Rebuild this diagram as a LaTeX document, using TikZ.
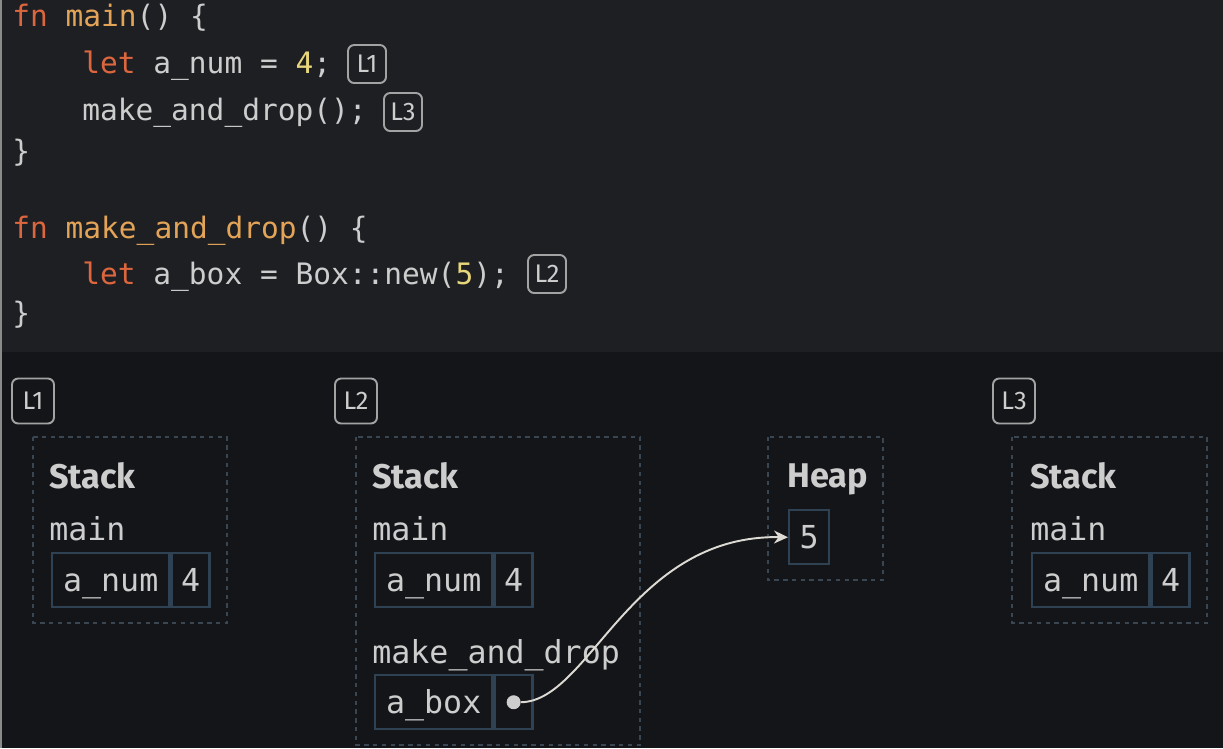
\documentclass[tikz,border=0pt]{standalone}
\usepackage{fontspec}
\setmonofont{DejaVu Sans Mono}
\newfontfamily\headfont{Fira Sans}
\usetikzlibrary{arrows.meta,positioning}

\definecolor{bgtop}{HTML}{1E1F23}
\definecolor{bgbot}{HTML}{141519}
\definecolor{kwcol}{HTML}{DC673E}
\definecolor{fncol}{HTML}{E3A458}
\definecolor{litcol}{HTML}{E8D77A}
\definecolor{txt}{HTML}{CDCDCD}
\definecolor{badgeline}{HTML}{A3A3A3}
\definecolor{cellline}{HTML}{2F4253}
\definecolor{frameline}{HTML}{3A4651}
\definecolor{edgeline}{HTML}{8A8A8A}
\definecolor{ptrcol}{HTML}{DCDAD2}

\newcommand{\kw}[1]{\textcolor{kwcol}{#1}}
\newcommand{\fnm}[1]{\textcolor{fncol}{#1}}
\newcommand{\lit}[1]{\textcolor{litcol}{#1}}

\tikzset{
    frame/.style={draw=frameline,line width=0.8pt,dash pattern=on 2.5pt off 2.5pt},
    heading/.style={anchor=base west,inner sep=0pt,text=txt,font=\headfont\bfseries\fontsize{19.5}{20}\selectfont},
    frlabel/.style={anchor=base west,inner sep=0pt,text=txt,font=\ttfamily\fontsize{18}{20}\selectfont},
    cell/.style={draw=cellline,line width=1.4pt,minimum height=1.08cm,inner sep=0pt,
                 text height=12.5pt,text depth=0pt,text=txt,font=\ttfamily\fontsize{18}{20}\selectfont},
    badge/.style={draw=badgeline,line width=1.1pt,rounded corners=3.5pt,inner sep=0pt,
                  text=txt,font=\headfont\fontsize{14.5}{14}\selectfont}
}

\begin{document}
\begin{tikzpicture}[x=0.02cm,y=-0.02cm]
\fill[bgtop] (0,0) rectangle (1223,352);
\fill[bgbot] (0,352) rectangle (1223,748);
\fill[edgeline] (0,0) rectangle (2.5,748);

% source code
\begin{scope}[every node/.style={anchor=base west,inner sep=0pt,text=txt,
                                 font=\ttfamily\fontsize{16.8}{20}\selectfont}]
    \node (c1) at (12,26) {\kw{fn} \fnm{main}() \{};
    \node (c2) at (82,73) {\kw{let} a\_num = \lit{4};};
    \node (c3) at (82,120) {make\_and\_drop();};
    \node (c4) at (12,161) {\}};
    \node (c5) at (12,238) {\kw{fn} \fnm{make\_and\_drop}() \{};
    \node (c6) at (82,284) {\kw{let} a\_box = Box::new(\lit{5});};
    \node (c7) at (12,323) {\}};
\end{scope}

\begin{scope}[every node/.style={badge,fill=bgtop,minimum width=0.76cm,minimum height=0.76cm}]
    \node (m1) at (367,64) {L1};
    \node (m3) at (403,112) {L3};
    \node (m2) at (547,274) {L2};
\end{scope}

% memory diagrams
\begin{scope}[every node/.style={badge,minimum width=0.84cm,minimum height=0.9cm}]
    \node (s1) at (33,401) {L1};
    \node (s2) at (356,401) {L2};
    \node (s3) at (1014,401) {L3};
\end{scope}

\draw[frame] (33,437) rectangle (227,623);
\draw[frame] (356,437) rectangle (640,745);
\draw[frame] (768,437) rectangle (883,580);
\draw[frame] (1012,437) rectangle (1207,623);

\node[heading] (st1) at (49,488) {Stack};
\node[frlabel] (mn1) at (49,540) {main};
\node[cell,anchor=north west,minimum width=2.34cm] (n1) at (51,552) {a\_num};
\node[cell,minimum width=0.76cm,right=0pt of n1] (v1) {4};

\node[heading] (st2) at (372,488) {Stack};
\node[frlabel] (mn2) at (372,540) {main};
\node[cell,anchor=north west,minimum width=2.34cm] (n2) at (374,552) {a\_num};
\node[cell,minimum width=0.76cm,right=0pt of n2] (v2) {4};
\node[frlabel] (md2) at (372,663) {make\_and\_drop};
\node[cell,anchor=north west,minimum width=2.34cm] (b2) at (374,674) {a\_box};
\node[cell,minimum width=0.76cm,right=0pt of b2] (p2) {};
\node[circle,fill=txt,minimum size=0.28cm,inner sep=0pt] (dot) at (p2.center) {};

\node[heading] (hp) at (787,487) {Heap};
\node[cell,anchor=north west,minimum width=0.8cm] (h5) at (788,509) {5};

\node[heading] (st3) at (1030,488) {Stack};
\node[frlabel] (mn3) at (1030,540) {main};
\node[cell,anchor=north west,minimum width=2.34cm] (n3) at (1031,552) {a\_num};
\node[cell,minimum width=0.76cm,right=0pt of n3] (v3) {4};

\draw[ptrcol,line width=1.1pt,-{Stealth[length=0.28cm,width=0.26cm]}]
    (dot.east) .. controls (590,701) and (630,535) .. (h5.west);
\end{tikzpicture}
\end{document}
